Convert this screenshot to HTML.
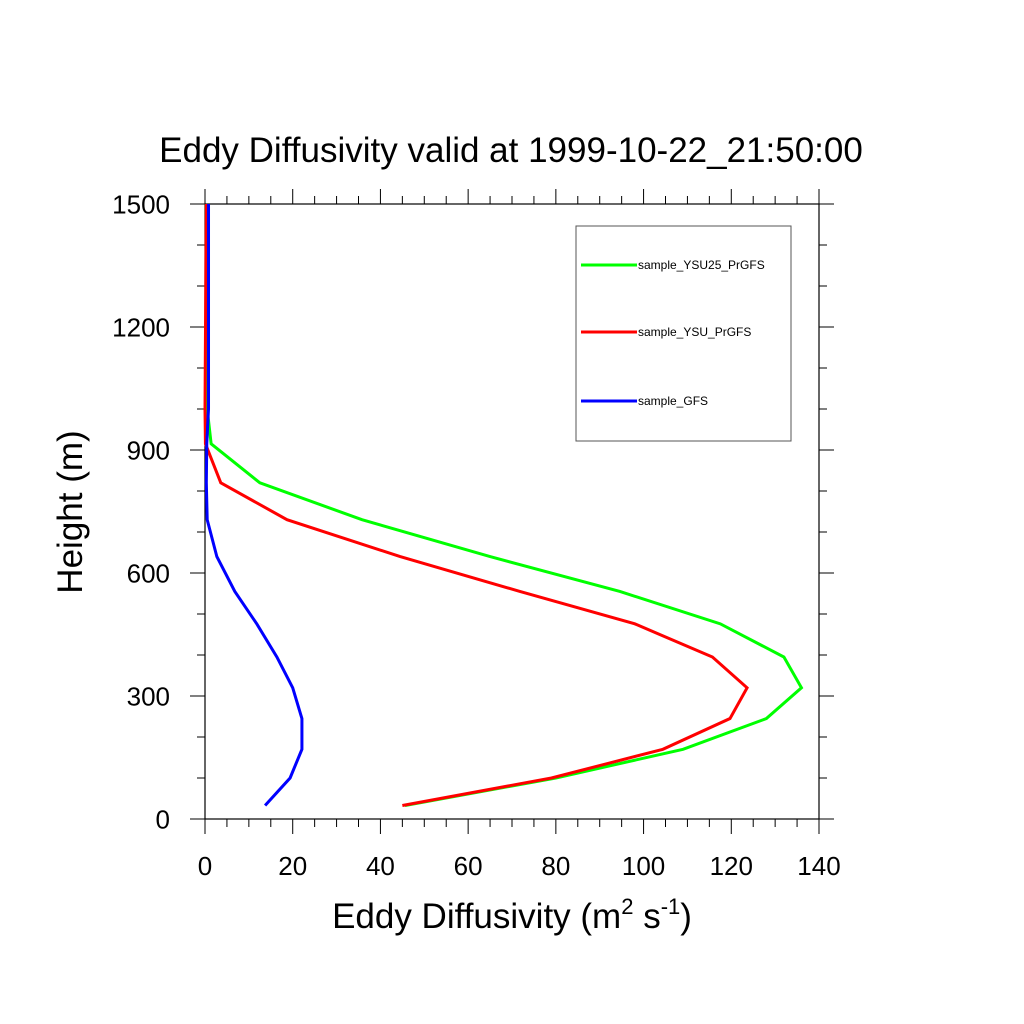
<!DOCTYPE html>
<html><head><meta charset="utf-8"><style>body{margin:0;background:#fff}svg{display:block;font-family:"Liberation Sans",sans-serif}</style></head>
<body>
<svg id="c" width="1024" height="1024"></svg>
<script>
const heights=[33,100,170,245,320,395,476,555,640,730,820,915,1000,1500];
const green=[45.6,80,109,128,136,132,117.5,94.6,65,35.8,12.5,1.4,0.5,0.3];
const red=[45,79,104.4,119.7,123.6,115.7,98,71.8,44.5,18.7,3.6,0.1,0,0.3];
const blue=[13.7,19.4,22.1,22.1,20,16.4,11.8,6.8,2.7,0.5,0.3,0.4,0.8,0.8];
const xTicks=[0,20,40,60,80,100,120,140];
const yTicks=[0,300,600,900,1200,1500];
const series=[{name:"sample_YSU25_PrGFS",color:"#00ff00",vals:green},{name:"sample_YSU_PrGFS",color:"#ff0000",vals:red},{name:"sample_GFS",color:"#0000ff",vals:blue}];
const L=205,R=819,T=204,B=819;
const X=v=>L+v/140*(R-L), Y=v=>B-v/1500*(B-T);
const svg=document.getElementById('c');const NS="http://www.w3.org/2000/svg";
function el(t,a,p){const e=document.createElementNS(NS,t);for(const k in a)e.setAttribute(k,a[k]);(p||svg).appendChild(e);return e;}
let t=el('text',{x:511,y:162,'text-anchor':'middle','font-size':35});t.textContent="Eddy Diffusivity valid at 1999-10-22_21:50:00";

let f=el('rect',{x:L,y:T,width:R-L,height:B-T,fill:'none',stroke:'#000','stroke-width':1.2});

const tk=el('g',{stroke:'#000','stroke-width':1});

for(let v=0;v<=140;v+=5){const M=v%20==0,len=M?15:8,x=X(v);el('line',{x1:x,y1:B,x2:x,y2:B+len},tk);el('line',{x1:x,y1:T,x2:x,y2:T-len},tk);}
for(let v=0;v<=1500;v+=100){const M=v%300==0,len=M?15:8,y=Y(v);el('line',{x1:L,y1:y,x2:L-len,y2:y},tk);el('line',{x1:R,y1:y,x2:R+len,y2:y},tk);}
xTicks.forEach(v=>{const e=el('text',{x:X(v),y:875,'text-anchor':'middle','font-size':26});e.textContent=v;});
yTicks.forEach(v=>{const e=el('text',{x:170,y:Y(v)+9.5,'text-anchor':'end','font-size':26});e.textContent=v;});
let xt=el('text',{x:512,y:928,'text-anchor':'middle','font-size':35});xt.innerHTML='Eddy Diffusivity (m<tspan dy="-14" font-size="22">2</tspan><tspan dy="14"> s</tspan><tspan dy="-14" font-size="22">-1</tspan><tspan dy="14">)</tspan>';

let yt=el('text',{x:82,y:512,'text-anchor':'middle','font-size':35,transform:'rotate(-90 82 512)'});yt.textContent="Height (m)";

series.forEach(s=>{const p=el('polyline',{points:s.vals.map((v,i)=>X(v)+','+Y(heights[i])).join(' '),fill:'none',stroke:s.color,'stroke-width':3,'stroke-linejoin':'miter'});
});
const lg=el('g',{});
el('rect',{x:576,y:226,width:215,height:215,fill:'none',stroke:'#555','stroke-width':1},lg);
const ly=[265,332,401];
series.forEach((s,i)=>{el('line',{x1:581,y1:ly[i],x2:637,y2:ly[i],stroke:s.color,'stroke-width':3},lg);
const e=el('text',{x:638,y:ly[i]+4,'font-size':12},lg);e.textContent=s.name;});
</script>
</body></html>
